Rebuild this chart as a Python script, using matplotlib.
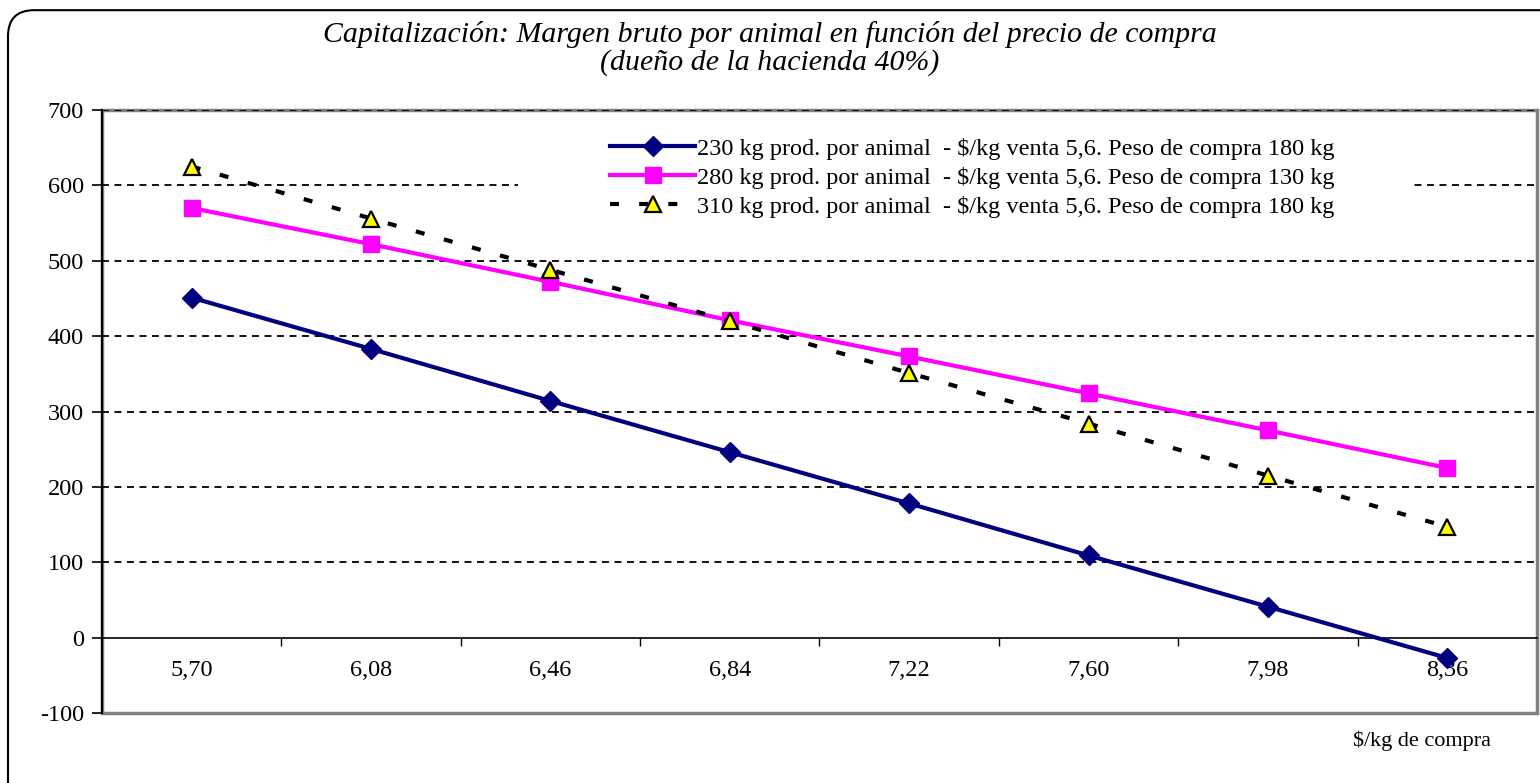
import matplotlib
matplotlib.use("Agg")
import matplotlib.pyplot as plt
from matplotlib.patches import Rectangle, FancyBboxPatch

plt.rcParams['font.family'] = ['Liberation Serif', 'DejaVu Serif']
plt.rcParams['lines.scale_dashes'] = False

# datos
precios = ["5,70", "6,08", "6,46", "6,84", "7,22", "7,60", "7,98", "8,36"]
serie_230 = [451, 383, 314, 246, 178, 109, 41, -27]
serie_280 = [570, 522, 472, 421, 373, 324, 275, 225]
serie_310 = [625, 556, 488, 420, 351, 284, 215, 147]
nombres = [
    "230 kg prod. por animal  - \\$/kg venta 5,6. Peso de compra 180 kg",
    "280 kg prod. por animal  - \\$/kg venta 5,6. Peso de compra 130 kg",
    "310 kg prod. por animal  - \\$/kg venta 5,6. Peso de compra 180 kg",
]
y_ticks = list(range(-100, 701, 100))

fig = plt.figure(figsize=(15.4, 7.83), dpi=100)

# marco redondeado de la figura
marco = FancyBboxPatch((8 / 1540, -0.1), 1.1, 1.087, boxstyle="round,pad=0,rounding_size=0.017",
                       transform=fig.transFigure, fill=False, lw=1.5, ec="black",
                       mutation_aspect=1540 / 783)
fig.patches.append(marco)

ax = fig.add_axes([102 / 1540, 70 / 783, 1435 / 1540, 603 / 783])
x = list(range(len(precios)))

ax.set_xlim(-0.5, len(precios) - 0.5)
ax.set_ylim(-100, 700)

# grilla punteada
for v in y_ticks:
    if v not in (0, -100):
        ax.axhline(v, color="black", lw=1.3, ls=(0, (5.0, 4.0)), zorder=1)

# borde del area de trazado
ax.add_patch(Rectangle((0, 0), 1, 1, transform=ax.transAxes, fill=False,
                       ec="#808080", lw=2.5, zorder=0.5, clip_on=False))

# fondo blanco de la leyenda
ax.add_patch(Rectangle((0.29, 0.805), 0.6215, 0.165, transform=ax.transAxes,
                       fc="white", ec="none", zorder=1.5))

ax.plot(x, serie_230, color="#000080", lw=3, marker="D", ms=10, mec="#000080", zorder=4,
        label=nombres[0])
ax.plot(x, serie_280, color="#FF00FF", lw=3, marker="s", ms=12, mec="#FF00FF", zorder=3,
        label=nombres[1])
ax.plot(x, serie_310, color="black", lw=3, ls=(0, (6.5, 14.5)), marker="^", ms=12,
        mfc="#FFFF00", mec="black", mew=1.6, zorder=5, label=nombres[2])

for s in ["top", "right"]:
    ax.spines[s].set_visible(False)
ax.spines["left"].set_linewidth(1.5)
ax.spines["left"].set_zorder(6)
ax.spines["bottom"].set_position(("data", 0))
ax.spines["bottom"].set_linewidth(1.2)

ax.set_yticks(y_ticks)
ax.set_yticklabels([str(v) for v in y_ticks])
ax.tick_params(axis="y", direction="out", length=7, width=1.2, labelsize=17.5, pad=6)

ax.set_xticks(x)
ax.set_xticklabels(precios)
ax.set_xticks([i + 0.5 for i in x[:-1]], minor=True)
ax.tick_params(axis="x", which="major", length=0, labelsize=17.5, pad=16)
ax.tick_params(axis="x", which="minor", direction="out", length=6, width=1)

ax.legend(loc="upper left", bbox_to_anchor=(0.3475, 0.97), frameon=False, fontsize=17.5,
          handlelength=3.5, handletextpad=0.08, labelspacing=0.29, borderaxespad=0)

fig.text(0.5, 1 - 35 / 783, "Capitalización: Margen bruto por animal en función del precio de compra",
         ha="center", va="center", fontsize=21.5, style="italic")
fig.text(0.5, 1 - 63 / 783, "(dueño de la hacienda 40%)", ha="center", va="center", fontsize=21.5,
         style="italic")
fig.text(1422 / 1540, 1 - 741 / 783, "\\$/kg de compra", ha="center", va="center", fontsize=16)

fig.savefig("out.png", dpi=100)
